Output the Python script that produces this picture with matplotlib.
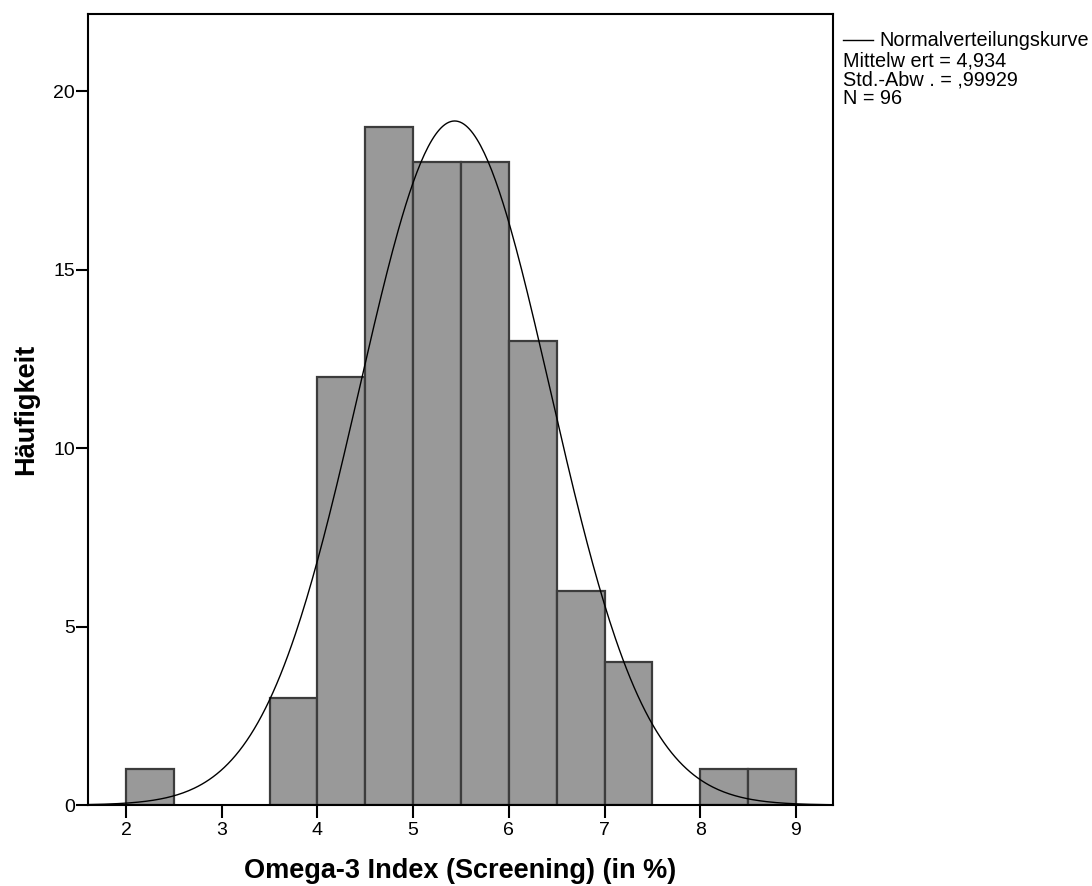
import numpy as np
import matplotlib.pyplot as plt

plt.rcParams['font.family'] = ['Liberation Sans', 'DejaVu Sans']

# histogram bins (lower edges, width 0.5) and counts
bin_left = [2.0, 2.5, 3.0, 3.5, 4.0, 4.5, 5.0, 5.5, 6.0, 6.5, 7.0, 7.5, 8.0, 8.5]
counts = [1, 0, 0, 3, 12, 19, 18, 18, 13, 6, 4, 0, 1, 1]
bin_width = 0.5

# normal curve as drawn
curve_mean = 5.434
curve_sd = 0.99929
n_total = 96

x_ticks = [2, 3, 4, 5, 6, 7, 8, 9]
y_ticks = [0, 5, 10, 15, 20]
legend_lines = ['Mittelw ert = 4,934', 'Std.-Abw . = ,99929', 'N = 96']


def main():
    fig = plt.figure(figsize=(10.92, 8.86), dpi=100)
    ax = fig.add_axes([88 / 1092, 81 / 886, 745 / 1092, 791 / 886])

    for left, c in zip(bin_left, counts):
        if c > 0:
            ax.bar(left, c, width=bin_width, align='edge', color='#999999',
                   edgecolor='#3c3c3c', linewidth=1.6, zorder=2)

    xs = np.linspace(1.6, 9.4, 400)
    ys = n_total * bin_width / (curve_sd * np.sqrt(2 * np.pi)) * np.exp(-0.5 * ((xs - curve_mean) / curve_sd) ** 2)
    ax.plot(xs, ys, color='black', linewidth=1.0, zorder=3)

    ax.set_xlim(1.603, 9.387)
    ax.set_ylim(0, 22.16)
    ax.set_xticks(x_ticks)
    ax.set_yticks(y_ticks)
    ax.tick_params(axis='both', direction='out', length=9, width=1.5, labelsize=14)
    ax.tick_params(axis='y', pad=0.5)
    ax.tick_params(axis='x', pad=3)
    for s in ax.spines.values():
        s.set_linewidth(1.5)

    ax.set_ylabel('Häufigkeit', fontsize=19.5, fontweight='bold', labelpad=10)
    ax.set_xlabel('Omega-3 Index (Screening) (in %)', fontsize=19.5, fontweight='bold', labelpad=14)

    # legend outside right
    fig.lines.append(plt.Line2D([843 / 1092, 873 / 1092], [1 - 40 / 886, 1 - 40 / 886],
                                color='black', linewidth=1.0, transform=fig.transFigure))
    fig.text(879 / 1092, 1 - 41 / 886, 'Normalverteilungskurve', fontsize=14.3, va='center', ha='left')
    for i, line in enumerate(legend_lines):
        fig.text(843 / 1092, 1 - (61 + i * 19) / 886, line, fontsize=14.3, va='center', ha='left')

    fig.savefig('out.png', dpi=100)


if __name__ == '__main__':
    main()
